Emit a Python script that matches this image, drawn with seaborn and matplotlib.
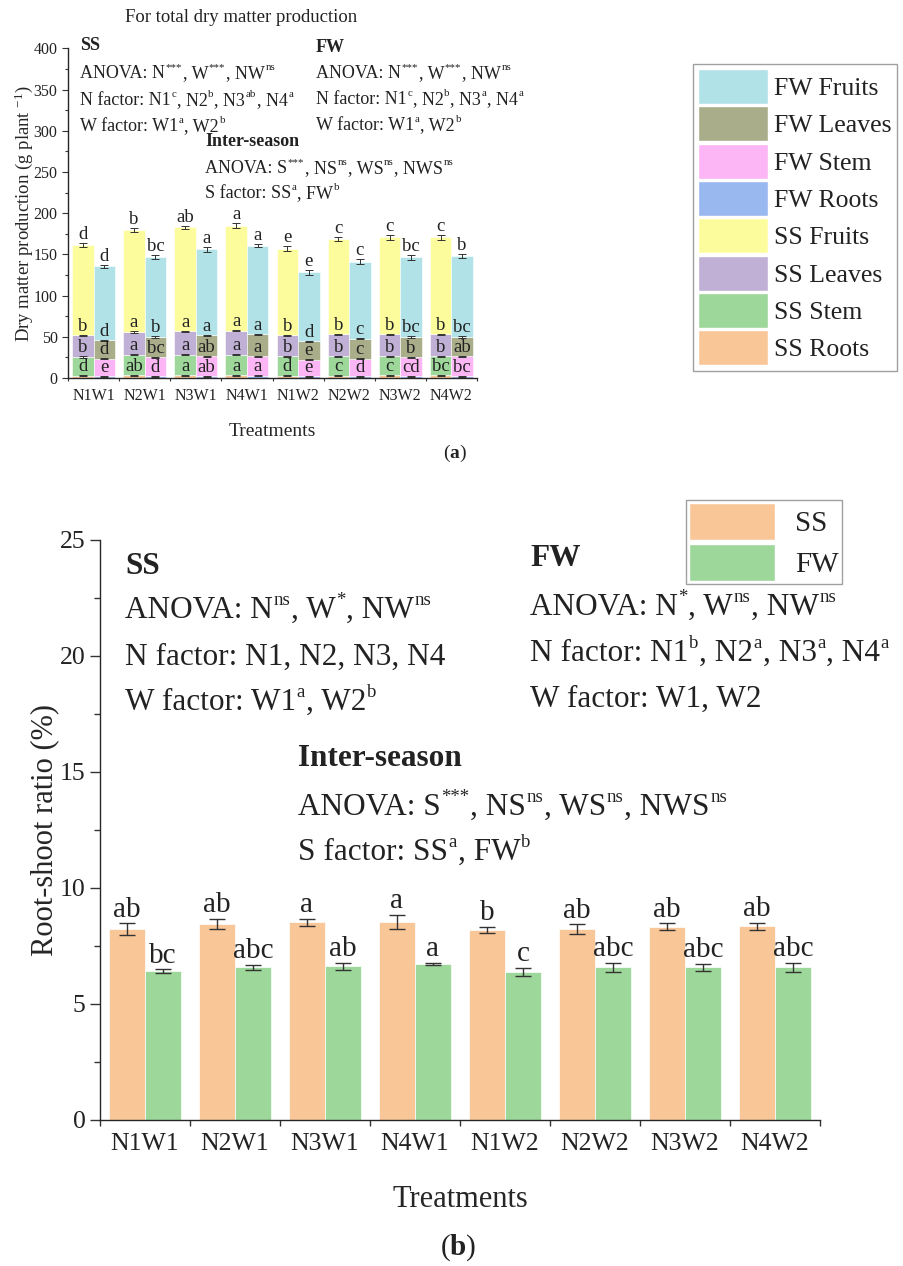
import re
import numpy as np
import pandas as pd
import matplotlib
matplotlib.use("Agg")
import matplotlib.pyplot as plt
import seaborn as sns
from matplotlib.patches import Patch
from matplotlib.ticker import MultipleLocator, FixedLocator

# ---------------- data ----------------
treatments = ["N1W1", "N2W1", "N3W1", "N4W1", "N1W2", "N2W2", "N3W2", "N4W2"]

# panel (a): dry matter per organ (g plant-1)
ss_roots = [3.0, 3.2, 3.3, 3.4, 2.9, 3.0, 3.1, 3.2]
ss_stem = [22.4, 25.0, 24.9, 24.8, 23.3, 23.2, 23.1, 23.0]
ss_leaves = [26.2, 27.5, 28.3, 29.1, 25.4, 26.7, 26.7, 26.7]
ss_fruits = [110.0, 124.1, 126.5, 127.7, 105.1, 115.6, 118.1, 118.1]
fw_roots = [2.0, 2.2, 2.4, 2.6, 1.9, 2.1, 2.3, 2.4]
fw_stem = [21.4, 22.8, 23.8, 23.6, 20.3, 21.3, 22.7, 23.8]
fw_leaves = [22.2, 24.7, 25.4, 26.7, 22.2, 24.2, 24.7, 23.5]
fw_fruits = [89.7, 97.0, 104.8, 107.5, 84.1, 93.7, 96.5, 98.5]

ss_err_total = [2.5, 2.5, 2.0, 3.0, 3.0, 2.0, 3.0, 3.0]
fw_err_total = [1.5, 2.0, 3.0, 2.0, 3.0, 3.0, 3.0, 2.5]
seg_err = [0.6, 0.8, 0.8]  # roots, stem, leaves cumulative tops

ss_letters = {
    "roots": ["d", "ab", "a", "a", "d", "c", "c", "bc"],
    "stem": ["b", "a", "a", "a", "b", "b", "b", "b"],
    "leaves": ["b", "a", "a", "a", "b", "b", "b", "b"],
    "fruits": ["d", "b", "ab", "a", "e", "c", "c", "c"],
}
fw_letters = {
    "roots": ["e", "d", "ab", "a", "e", "d", "cd", "bc"],
    "stem": ["d", "bc", "ab", "a", "e", "c", "b", "ab"],
    "leaves": ["d", "b", "a", "a", "d", "c", "bc", "bc"],
    "fruits": ["d", "bc", "a", "a", "e", "c", "bc", "b"],
}

# panel (b): root-shoot ratio (%)
ss_ratio = [8.23, 8.45, 8.53, 8.53, 8.19, 8.23, 8.32, 8.36]
fw_ratio = [6.42, 6.58, 6.62, 6.72, 6.38, 6.58, 6.58, 6.58]
ss_ratio_err = [0.25, 0.22, 0.15, 0.30, 0.15, 0.20, 0.15, 0.15]
fw_ratio_err = [0.07, 0.12, 0.15, 0.06, 0.18, 0.18, 0.15, 0.18]
ss_ratio_letters = ["ab", "ab", "a", "a", "b", "ab", "ab", "ab"]
fw_ratio_letters = ["bc", "abc", "ab", "a", "c", "abc", "abc", "abc"]

colors = {
    "FW Fruits": "#b1e2e7", "FW Leaves": "#aaad8a", "FW Stem": "#fcb5f5",
    "FW Roots": "#99b8f0", "SS Fruits": "#fdfc9d", "SS Leaves": "#c0b0d6",
    "SS Stem": "#9dd89a", "SS Roots": "#f9c698",
}

# ---------------- style ----------------
sns.set_theme(style="ticks")
plt.rcParams["font.family"] = ["Liberation Serif", "DejaVu Serif"]
plt.rcParams["mathtext.fontset"] = "custom"
plt.rcParams["mathtext.rm"] = "Liberation Serif"
plt.rcParams["mathtext.it"] = "Liberation Serif:italic"
plt.rcParams["mathtext.bf"] = "Liberation Serif:bold"
plt.rcParams["axes.linewidth"] = 1.0
plt.rcParams["text.color"] = "#222222"

W, H = 904, 1266
fig = plt.figure(figsize=(W / 100, H / 100), dpi=100)
renderer = fig.canvas.get_renderer()


def ftxt(x, y, s, size, **kw):
    fig.text(x / W, 1 - y / H, s, fontsize=size, va="center", ha=kw.pop("ha", "left"), **kw)


def rich(x, y, s, size, sup_scale=0.6, gap=0.6):
    """Text with ^{...} superscripts drawn as smaller raised pieces; (x, y) = left, cap-centre in px."""
    px = size * 100 / 72
    base = y + 0.33 * px
    pieces = re.split(r"\^\{(.*?)\}", s)
    cx = x
    for i, piece in enumerate(pieces):
        if not piece:
            continue
        sup = i % 2 == 1
        fs = size * sup_scale if sup else size
        yy = base - (0.42 * px if sup else 0)
        t = fig.text(cx / W, 1 - yy / H, piece, fontsize=fs, va="baseline", ha="left")
        cx += t.get_window_extent(renderer).width + gap


# ================= panel (a) =================
ax1 = fig.add_axes([68 / W, 1 - 378 / H, (477 - 68) / W, (378 - 48.3) / H])
xpos = np.arange(len(treatments))
bw = 0.42
seasons = [
    ("SS", -bw / 2, [ss_roots, ss_stem, ss_leaves, ss_fruits], ss_err_total, ss_letters),
    ("FW", bw / 2, [fw_roots, fw_stem, fw_leaves, fw_fruits], fw_err_total, fw_letters),
]
organs = ["Roots", "Stem", "Leaves", "Fruits"]
for season, off, segs, err_tot, letters in seasons:
    bottom = np.zeros(len(treatments))
    for k, (organ, vals) in enumerate(zip(organs, segs)):
        vals = np.asarray(vals, dtype=float)
        ax1.bar(xpos + off, vals, bottom=bottom, width=bw,
                color=colors[f"{season} {organ}"], edgecolor="white", linewidth=0.4)
        top = bottom + vals
        err = np.asarray(err_tot) if organ == "Fruits" else np.full(len(top), seg_err[k])
        ax1.errorbar(xpos + off, top, yerr=err, fmt="none", ecolor="#333333",
                     elinewidth=0.7, capsize=3, capthick=0.7)
        for xi, ti, ei, lab in zip(xpos + off, top, err, letters[organ.lower()]):
            ax1.annotate(lab, (xi, ti + ei), xytext=(0, 0.0), textcoords="offset points",
                         ha="center", va="bottom", fontsize=13.5, color="#222222")
        bottom = top

ax1.set_xlim(-0.5, 7.5)
ax1.set_ylim(0, 400)
ax1.yaxis.set_major_locator(MultipleLocator(50))
ax1.yaxis.set_minor_locator(MultipleLocator(25))
ax1.set_xticks(xpos)
ax1.set_xticklabels(treatments)
ax1.xaxis.set_minor_locator(FixedLocator(np.arange(-0.5, 8, 1.0)))
ax1.tick_params(axis="both", which="major", labelsize=11.5, direction="out", length=4, width=0.8,
                colors="#333333", labelcolor="#222222")
ax1.tick_params(axis="both", which="minor", direction="out", length=2.5, width=0.8, colors="#333333")
ax1.tick_params(axis="x", which="major", length=0, pad=7)
sns.despine(ax=ax1)
ax1.set_ylabel("Dry matter production (g plant $^{-1}$)", fontsize=13.5, labelpad=-1)
ax1.set_xlabel("Treatments", fontsize=14, labelpad=14)

handles = [Patch(facecolor=colors[k], edgecolor="white", label=k) for k in colors]
fig.legend(handles=handles, loc="upper left", bbox_to_anchor=(693 / W, 1 - 64 / H),
           bbox_transform=fig.transFigure, fontsize=18.5, frameon=True, fancybox=False,
           edgecolor="#888888", handlelength=2.7, handleheight=1.72, labelspacing=0.09,
           handletextpad=0.25, borderpad=0.2, borderaxespad=0)

# texts panel (a)
s1 = 13
ftxt(125, 18, "For total dry matter production", 13.5)
ftxt(80, 45, "SS", s1, fontweight="bold")
rich(80, 72, "ANOVA: N^{***}, W^{***}, NW^{ns}", s1)
rich(80, 99, "N factor: N1^{c}, N2^{b}, N3^{ab}, N4^{a}", s1)
rich(80, 125, "W factor: W1^{a}, W2^{b}", s1)
ftxt(316, 47, "FW", s1, fontweight="bold")
rich(316, 72, "ANOVA: N^{***}, W^{***}, NW^{ns}", s1)
rich(316, 98, "N factor: N1^{c}, N2^{b}, N3^{a}, N4^{a}", s1)
rich(316, 124, "W factor: W1^{a}, W2^{b}", s1)
ftxt(205, 142, "Inter-season", s1, fontweight="bold")
rich(205, 167, "ANOVA: S^{***}, NS^{ns}, WS^{ns}, NWS^{ns}", s1)
rich(205, 192, "S factor: SS^{a}, FW^{b}", s1)
ftxt(455, 453, r"($\mathbf{a}$)", 14, ha="center")

# ================= panel (b) =================
ax2 = fig.add_axes([100 / W, 1 - 1120 / H, (820 - 100) / W, (1120 - 540) / H])
df = pd.DataFrame({
    "Treatment": treatments * 2,
    "Season": ["SS"] * len(treatments) + ["FW"] * len(treatments),
    "Ratio": ss_ratio + fw_ratio,
    "Err": ss_ratio_err + fw_ratio_err,
    "Letter": ss_ratio_letters + fw_ratio_letters,
})
sns.barplot(data=df, x="Treatment", y="Ratio", hue="Season", order=treatments,
            hue_order=["SS", "FW"], palette={"SS": colors["SS Roots"], "FW": colors["SS Stem"]},
            width=0.8, errorbar=None, saturation=1, legend=False, ax=ax2,
            edgecolor="white", linewidth=0.5)
for cont, season in zip(ax2.containers, ["SS", "FW"]):
    sub = df[df["Season"] == season]
    xs = [b.get_x() + b.get_width() / 2 for b in cont]
    hs = [b.get_height() for b in cont]
    ax2.errorbar(xs, hs, yerr=sub["Err"].values, fmt="none", ecolor="#333333",
                 elinewidth=1.0, capsize=6, capthick=1.0)
    for xi, hi, ei, lab in zip(xs, hs, sub["Err"].values, sub["Letter"].values):
        ax2.annotate(lab, (xi, hi + ei), xytext=(0, 0.5), textcoords="offset points",
                     ha="center", va="bottom", fontsize=21, color="#222222")

ax2.set_xlim(-0.5, 7.5)
ax2.set_ylim(0, 25)
ax2.yaxis.set_major_locator(MultipleLocator(5))
ax2.yaxis.set_minor_locator(MultipleLocator(2.5))
ax2.xaxis.set_minor_locator(FixedLocator(np.arange(-0.5, 8, 1.0)))
ax2.tick_params(axis="both", which="major", labelsize=18.5, direction="out", length=7, width=1.0,
                colors="#333333", labelcolor="#222222")
ax2.tick_params(axis="both", which="minor", direction="out", length=4, width=1.0, colors="#333333")
ax2.tick_params(axis="x", which="major", length=0, pad=9)
sns.despine(ax=ax2)
ax2.set_ylabel("Root-shoot ratio (%)", fontsize=22, labelpad=0)
ax2.set_xlabel("Treatments", fontsize=22, labelpad=22)

handles2 = [Patch(facecolor=colors["SS Roots"], edgecolor="white", label="SS"),
            Patch(facecolor=colors["SS Stem"], edgecolor="white", label="FW")]
fig.legend(handles=handles2, loc="upper left", bbox_to_anchor=(686 / W, 1 - 500 / H),
           bbox_transform=fig.transFigure, fontsize=21, frameon=True, fancybox=False,
           edgecolor="#888888", handlelength=2.95, handleheight=1.6, labelspacing=0.12,
           handletextpad=0.7, borderpad=0.1, borderaxespad=0)

s2 = 22.5
ftxt(125, 566, "SS", s2, fontweight="bold")
rich(125, 608, "ANOVA: N^{ns}, W^{*}, NW^{ns}", s2)
rich(125, 655, "N factor: N1, N2, N3, N4", s2)
rich(125, 700, "W factor: W1^{a}, W2^{b}", s2)
ftxt(530, 558, "FW", s2, fontweight="bold")
rich(530, 605, "ANOVA: N^{*}, W^{ns}, NW^{ns}", s2)
rich(530, 651, "N factor: N1^{b}, N2^{a}, N3^{a}, N4^{a}", s2)
rich(530, 697, "W factor: W1, W2", s2)
ftxt(298, 758, "Inter-season", s2, fontweight="bold")
rich(298, 805, "ANOVA: S^{***}, NS^{ns}, WS^{ns}, NWS^{ns}", s2)
rich(298, 850, "S factor: SS^{a}, FW^{b}", s2)
ftxt(458, 1248, r"($\mathbf{b}$)", 21, ha="center")

fig.savefig("out.png", dpi=100)
